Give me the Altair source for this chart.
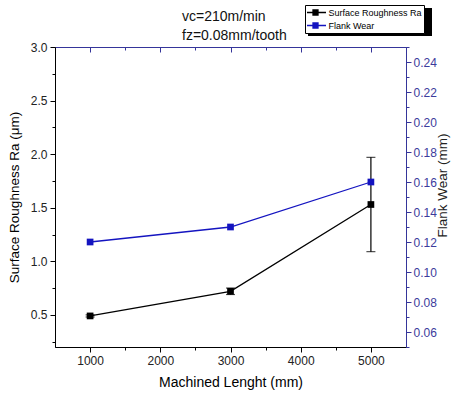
import altair as alt
import pandas as pd

# ---- data ----
lengths = [1000, 3000, 5000]
ra_values = [0.49, 0.72, 1.53]
ra_low = [0.48, 0.69, 1.09]
ra_high = [0.50, 0.75, 1.97]
flank_values = [0.12, 0.13, 0.16]
series_names = ["Surface Roughness Ra", "Flank Wear"]
series_colors = ["#000000", "#1414c0"]
title_lines = ["vc=210m/min", "fz=0.08mm/tooth"]

x_tick_values = [1000, 1500, 2000, 2500, 3000, 3500, 4000, 4500, 5000]
ra_tick_values = [0.25, 0.5, 0.75, 1.0, 1.25, 1.5, 1.75, 2.0, 2.25, 2.5, 2.75, 3.0]
fw_tick_values = [0.05, 0.06, 0.07, 0.08, 0.09, 0.10, 0.11, 0.12, 0.13, 0.14, 0.15,
                  0.16, 0.17, 0.18, 0.19, 0.20, 0.21, 0.22, 0.23, 0.24, 0.25]

ra_df = pd.DataFrame({"length": lengths, "value": ra_values, "low": ra_low,
                      "high": ra_high, "series": series_names[0]})
fw_df = pd.DataFrame({"length": lengths, "value": flank_values, "series": series_names[1]})

FONT = "Liberation Sans"
AXIS_BLUE = "#35359a"

x_scale = alt.Scale(domain=[500, 5500], nice=False, zero=False)
ra_scale = alt.Scale(domain=[0.2, 3.0], nice=False, zero=False)
fw_scale = alt.Scale(domain=[0.05, 0.25], nice=False, zero=False)
color_scale = alt.Scale(domain=series_names, range=series_colors)

legend = alt.Legend(
    title=None, orient="none", legendX=250, legendY=-42,
    symbolType="M-2.1,0H2.1M-0.5,-0.5H0.5V0.5H-0.5Z", symbolSize=100,
    symbolStrokeWidth=1.3, symbolOffset=2.5, clipHeight=11,
    labelFontSize=9, labelFont=FONT, labelColor="#000",
    padding=2, rowPadding=2, strokeColor="#000", fillColor="#fff",
    labelOffset=7, labelLimit=200,
)

X_MAJOR = "datum.value % 1000 == 0"
RA_MAJOR = "abs(datum.value*2 - round(datum.value*2)) < 0.001"
FW_MAJOR = "round(datum.value*100) % 2 == 0"

x_bottom = alt.X(
    "length:Q", scale=x_scale,
    axis=alt.Axis(
        orient="bottom", values=x_tick_values, title="Machined Lenght (mm)",
        labelExpr=f"{X_MAJOR} ? format(datum.value, 'd') : ''",
        tickSize={"expr": f"{X_MAJOR} ? 5 : 3"},
        grid=False, domainColor="#000", tickColor="#000", labelColor="#222",
        labelFontSize=12, titleFontSize=14, titleFontWeight="normal",
        labelPadding=3, titlePadding=9, labelFlush=False, labelOverlap=False,
    ),
)

x_top = alt.X(
    "length:Q", scale=x_scale,
    axis=alt.Axis(
        orient="top", values=x_tick_values, labels=False, title=None,
        tickSize={"expr": f"{X_MAJOR} ? -5 : -3"},
        grid=False, domainColor=AXIS_BLUE, tickColor=AXIS_BLUE,
    ),
)

y_ra = alt.Y(
    "value:Q", scale=ra_scale,
    axis=alt.Axis(
        orient="left", values=ra_tick_values, title="Surface Roughness Ra (\u03bcm)",
        labelExpr=f"{RA_MAJOR} ? format(datum.value, '.1f') : ''",
        tickSize={"expr": f"{RA_MAJOR} ? 5 : 3"},
        grid=False, domainColor="#000", tickColor="#000", labelColor="#222",
        labelFontSize=12, titleFontSize=13.5, titleFontWeight="normal",
        labelPadding=3, titlePadding=9, labelFlush=False, labelOverlap=False,
    ),
)

y_fw = alt.Y(
    "value:Q", scale=fw_scale,
    axis=alt.Axis(
        orient="right", values=fw_tick_values, title="Flank Wear (mm)",
        labelExpr=f"{FW_MAJOR} ? format(datum.value, '.2f') : ''",
        tickSize={"expr": f"{FW_MAJOR} ? 5 : 3"},
        grid=False, domainColor=AXIS_BLUE, tickColor=AXIS_BLUE, labelColor="#3c3c9c",
        labelFontSize=12, titleFontSize=13.5, titleFontWeight="normal", titleColor="#222",
        titleAngle=270, titleAlign="center", titleBaseline="middle", titleX=36, titleY=138,
        labelPadding=2, labelFlush=False, labelOverlap=False,
    ),
)

x_plain = alt.X("length:Q", scale=x_scale, axis=None)

base_ra = alt.Chart(ra_df)
base_fw = alt.Chart(fw_df)

shadow = alt.Chart(pd.DataFrame({"k": [0]})).mark_rect(color="#000").encode(
    x=alt.value(253), x2=alt.value(377), y=alt.value(-39), y2=alt.value(-11)
)

ra_err = base_ra.mark_errorbar(ticks={"size": 9}, color="#000", thickness=1.2).encode(
    x=x_plain,
    y=alt.Y("low:Q", scale=ra_scale, axis=None),
    y2="high:Q",
)
ra_line = base_ra.mark_line(strokeWidth=1.3).encode(
    x=x_bottom, y=y_ra,
    color=alt.Color("series:N", scale=color_scale, legend=legend),
)
ra_pts = base_ra.mark_square(size=45, opacity=1).encode(
    x=x_plain,
    y=alt.Y("value:Q", scale=ra_scale, axis=None),
    color=alt.Color("series:N", scale=color_scale, legend=None),
)

fw_line = base_fw.mark_line(strokeWidth=1.3).encode(
    x=x_top, y=y_fw,
    color=alt.Color("series:N", scale=color_scale, legend=None),
)
fw_pts = base_fw.mark_square(size=45, opacity=1).encode(
    x=x_plain,
    y=alt.Y("value:Q", scale=fw_scale, axis=None),
    color=alt.Color("series:N", scale=color_scale, legend=None),
)

chart = alt.layer(shadow, ra_err, ra_line, ra_pts, fw_line, fw_pts).resolve_scale(
    y="independent"
).resolve_axis(
    x="independent", y="independent"
).properties(
    width=351, height=300,
    autosize=alt.AutoSizeParams(type="none"),
    padding={"left": 55, "top": 47, "right": 50, "bottom": 54},
    title=alt.TitleParams(
        text=title_lines, anchor="start", frame="group", dx=127, dy=43,
        fontSize=14, fontWeight="normal", font=FONT, color="#111",
        offset=5, lineHeight=19,
    ),
).configure(
    font=FONT,
).configure_view(
    stroke=AXIS_BLUE,
).configure_axis(
    labelFont=FONT, titleFont=FONT,
)

chart.save("out.html", embed_options={"renderer": "svg", "actions": False})
